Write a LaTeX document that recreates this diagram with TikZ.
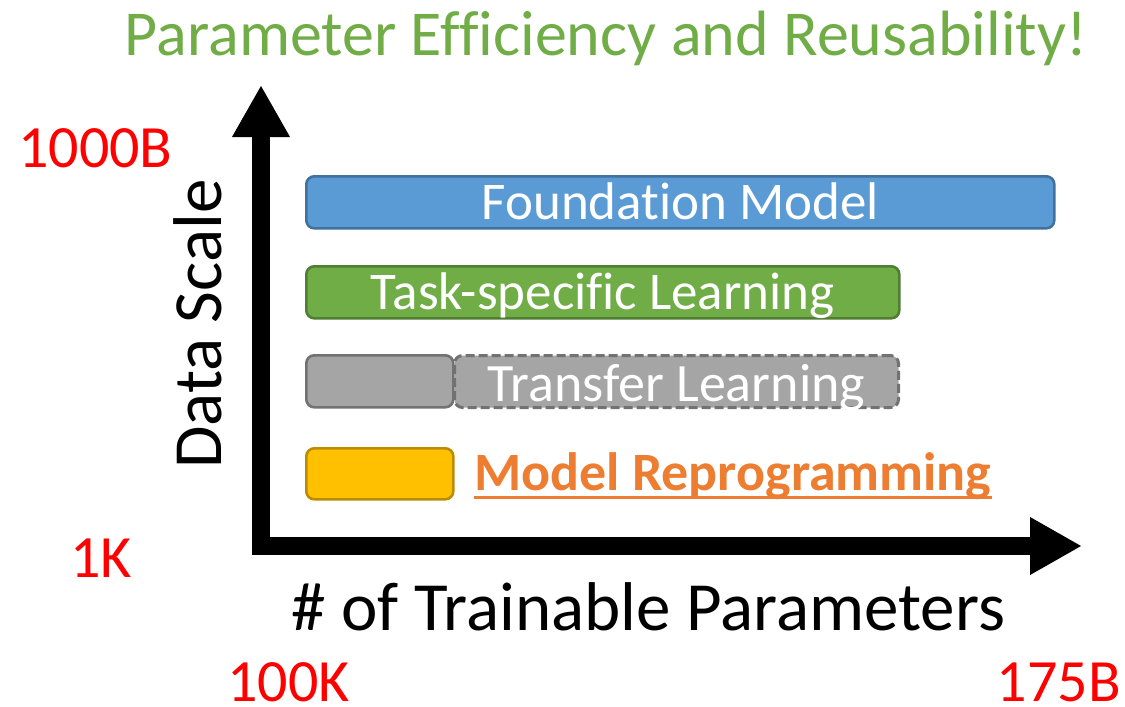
\documentclass[tikz,border=0pt]{standalone}
\usepackage{fontspec}
\setmainfont[Ligatures=NoCommon,RawFeature={-liga;-clig}]{Carlito}
\usetikzlibrary{arrows.meta}
\definecolor{titlegreen}{HTML}{70AD47}
\definecolor{fmfill}{HTML}{5B9BD5}
\definecolor{fmline}{HTML}{41719C}
\definecolor{tsfill}{HTML}{70AD47}
\definecolor{tsline}{HTML}{507E32}
\definecolor{tlfill}{HTML}{A5A5A5}
\definecolor{tlline}{HTML}{727272}
\definecolor{mrfill}{HTML}{FFC000}
\definecolor{mrline}{HTML}{BC8C00}
\definecolor{mrtext}{HTML}{ED7D31}
\definecolor{scalered}{HTML}{FF0000}
\tikzset{
  bar/.style={rectangle, rounded corners=8pt, line width=2.6pt, inner sep=0pt,
    minimum height=52pt},
  bartext/.style={anchor=base, inner sep=0pt, text=white, font=\fontsize{53}{60}\selectfont},
  scalelabel/.style={text=scalered, inner sep=0pt, text depth=0pt, font=\fontsize{60}{66}\selectfont},
  axislabel/.style={text=black, inner sep=0pt, font=\fontsize{69}{76}\selectfont},
  axisarrow/.style={line width=18pt, line join=miter,
    {Triangle[width=54pt,length=52pt]}-{Triangle[width=54pt,length=52pt]}}
}
\begin{document}
\begin{tikzpicture}[x=1pt,y=-1pt]
\path[use as bounding box] (0,0) rectangle (1125,707);

% title
\node[anchor=base, inner sep=0pt, text=titlegreen, font=\fontsize{64}{70}\selectfont]
  (title) at (606,55) {Parameter Efficiency and Reusability!};

% axes
\coordinate (ytip) at (261,85);
\coordinate (origin) at (261,546);
\coordinate (xtip) at (1082,546);
\draw[axisarrow] (ytip) -- (origin) -- (xtip);

% axis titles
\node[axislabel, anchor=base west, rotate=90] (ylab) at (221,469) {Data Scale};
\node[axislabel, anchor=base west] (xlab) at (291,630) {\# of Trainable Parameters};

% scale ends
\node[scalelabel, anchor=base west] (ymax) at (18,167) {1000B};
\node[scalelabel, anchor=base west] (ymin) at (70,577) {1K};
\node[scalelabel, anchor=base west] (xmin) at (227,701) {100K};
\node[scalelabel, anchor=base east] (xmax) at (1121,701) {175B};

% bars
\node[bar, draw=fmline, fill=fmfill, minimum width=748pt, anchor=north west]
  (fm) at (305,175) {};
\node[bartext] (fmtext) at (fm.center |- 0,219) {Foundation Model};

\node[bar, draw=tsline, fill=tsfill, minimum width=593pt, anchor=north west]
  (ts) at (305,265) {};
\node[bartext] (tstext) at (ts.center |- 0,309) {Task-specific Learning};

\node[bar, draw=tlline, fill=tlfill, minimum width=147pt, anchor=north west]
  (tla) at (305,354) {};
\node[bar, draw=tlline, fill=tlfill, line width=3pt, dash pattern=on 9pt off 4pt,
  minimum width=444pt, anchor=north west] (tlb) at (453,354) {};
\node[bartext, font=\fontsize{54}{60}\selectfont] (tltext) at (tlb.center |- 0,401) {Transfer Learning};

\node[bar, draw=mrline, fill=mrfill, minimum width=147pt, minimum height=51pt,
  anchor=north west] (mr) at (305,447) {};
\node[anchor=base west, inner sep=0pt, text=mrtext,
  font=\fontsize{54}{60}\selectfont\bfseries] (mrtext) at (474,490) {Model Reprogramming};
\draw[mrtext, line width=3pt] ([yshift=-7pt]mrtext.base west) -- ([yshift=-7pt]mrtext.base east);
\end{tikzpicture}
\end{document}
